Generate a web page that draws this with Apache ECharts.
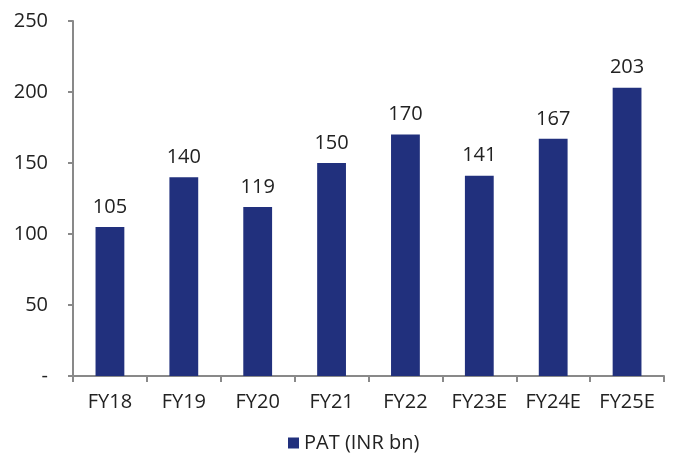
<!DOCTYPE html>
<html><head><meta charset="utf-8">
<script src="https://cdn.jsdelivr.net/npm/echarts@6/dist/echarts.min.js"></script>
<style>html,body{margin:0;padding:0;background:#fff}#c{width:679px;height:462px}</style>
</head><body><div id="c"></div>
<script>
var categories = ['FY18','FY19','FY20','FY21','FY22','FY23E','FY24E','FY25E'];
var patValues = [105,140,119,150,170,141,167,203];
var seriesName = 'PAT (INR bn)';
var yMin = 0, yMax = 250, yInterval = 50;

var chart = echarts.init(document.getElementById('c'));
var font = '"Open Sans", "Noto Sans", sans-serif';
chart.setOption({
  animation:false,
  textStyle:{fontFamily:font},
  grid:{left:73,right:15,top:21,bottom:86,containLabel:false},
  legend:{bottom:4,left:283,itemWidth:11,itemHeight:11,itemGap:5,icon:'rect',
    textStyle:{fontFamily:font,fontSize:20,color:'#222'},data:[seriesName]},
  xAxis:{type:'category',data:categories,
    axisLine:{lineStyle:{color:'#898989',width:2}},
    axisTick:{show:true,length:6,lineStyle:{color:'#898989',width:2},alignWithLabel:false},
    axisLabel:{fontFamily:font,fontSize:20,color:'#222',margin:16}},
  yAxis:{type:'value',min:yMin,max:yMax,interval:yInterval,
    axisLine:{show:true,lineStyle:{color:'#898989',width:2}},
    axisTick:{show:true,length:5,lineStyle:{color:'#898989',width:2}},
    splitLine:{show:false},
    axisLabel:{fontFamily:font,fontSize:20,color:'#222',margin:25,
      formatter:function(v){return v===0?'-':String(v);}}},
  series:[{name:seriesName,type:'bar',data:patValues,barWidth:'39%',
    itemStyle:{color:'#21307D'},
    label:{show:true,position:'top',distance:10,fontFamily:font,fontSize:20,color:'#222'}}]
});
</script></body></html>
